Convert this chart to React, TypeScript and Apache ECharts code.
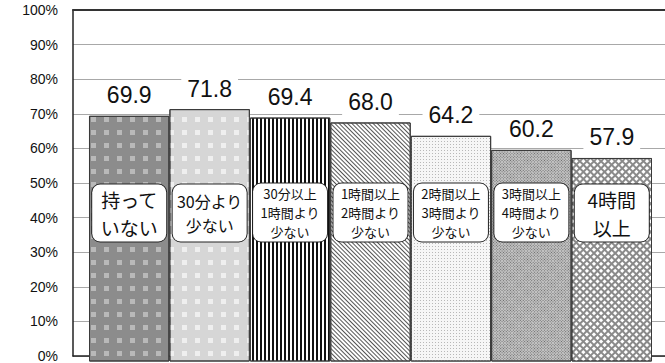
import React, { useEffect, useRef } from "react";
import * as echarts from "echarts";

const categories = [
  "持って\nいない",
  "30分より\n少ない",
  "30分以上\n1時間より\n少ない",
  "1時間以上\n2時間より\n少ない",
  "2時間以上\n3時間より\n少ない",
  "3時間以上\n4時間より\n少ない",
  "4時間\n以上",
];
const values = [69.9, 71.8, 69.4, 68.0, 64.2, 60.2, 57.9];
const yMin = 0;
const yMax = 100;
const yInterval = 10;

const barStyles: any[] = [
  {
    color: "#8c8c8c",
    decal: { symbol: "rect", symbolSize: 1, color: "rgba(230,230,230,0.5)", dashArrayX: [5, 8], dashArrayY: [5, 8] },
  },
  {
    color: "#d6d6d6",
    decal: { symbol: "rect", symbolSize: 1, color: "rgba(255,255,255,0.6)", dashArrayX: [5, 8], dashArrayY: [5, 8] },
  },
  {
    color: "#ffffff",
    decal: { symbol: "rect", symbolSize: 1, color: "#111111", dashArrayX: [1.6, 1.4], dashArrayY: [1, 0] },
  },
  {
    color: "#ffffff",
    decal: { symbol: "rect", symbolSize: 1, color: "#555555", dashArrayX: [1, 0], dashArrayY: [1, 1.3], rotation: Math.PI / 4 },
  },
  {
    color: "#f6f6f6",
    decal: { symbol: "rect", symbolSize: 1, color: "#b8b8b8", dashArrayX: [1, 2], dashArrayY: [1, 1.5] },
  },
  {
    color: "#c4c4c4",
    decal: { symbol: "rect", symbolSize: 1, color: "#6a6a6a", dashArrayX: [1, 1], dashArrayY: [1, 1], rotation: Math.PI / 4 },
  },
  {
    color: "#8a8a8a",
    decal: { symbol: "rect", symbolSize: 1, color: "#ffffff", dashArrayX: [3, 1.4], dashArrayY: [3, 1.4], rotation: Math.PI / 4 },
  },
];

function boxLabel(text: string, i: number) {
  const lines = text.split("\n").length;
  let fontSize = 19;
  let lineHeight = 28;
  if (lines === 3) {
    fontSize = 13;
    lineHeight = 19;
  } else if (i === 1) {
    fontSize = 16;
    lineHeight = 24;
  }
  const pv = Math.max(0.5, (57 - lines * lineHeight) / 2);
  return {
    show: true,
    position: "insideBottom",
    distance: 120,
    formatter: text,
    fontFamily: "'Noto Sans CJK JP', sans-serif",
    fontSize,
    lineHeight,
    color: "#111",
    backgroundColor: "#ffffff",
    borderColor: "#222",
    borderWidth: 1,
    borderRadius: 8,
    width: 72,
    align: "center",
    padding: [pv, 1, pv, 1],
  };
}

export default function App() {
  const ref = useRef<HTMLDivElement>(null);
  useEffect(() => {
    if (!ref.current) return;
    const chart = echarts.init(ref.current, null, { renderer: "svg" });
    chart.setOption({
      animation: false,
      backgroundColor: "#ffffff",
      grid: [
        { left: 73, right: -3, top: 10, bottom: 1.5 },
        { left: 89, right: 13, top: 10, bottom: 1.5 },
      ],
      xAxis: [
        {
          gridIndex: 0,
          type: "value",
          min: 0,
          max: 1,
          position: "bottom",
          axisLine: { show: true, lineStyle: { color: "#222", width: 1.5 } },
          axisTick: { show: false },
          axisLabel: { show: false },
          splitLine: { show: false },
        },
        {
          gridIndex: 0,
          type: "value",
          min: 0,
          max: 1,
          position: "top",
          axisLine: { show: true, lineStyle: { color: "#333", width: 2 } },
          axisTick: { show: false },
          axisLabel: { show: false },
          splitLine: { show: false },
        },
        {
          gridIndex: 1,
          type: "category",
          data: categories,
          axisLine: { show: false },
          axisTick: { show: false },
          axisLabel: { show: false },
          splitLine: { show: false },
        },
      ],
      yAxis: [
        {
          gridIndex: 0,
          type: "value",
          min: yMin,
          max: yMax,
          interval: yInterval,
          axisLine: { show: true, lineStyle: { color: "#222", width: 1.5 } },
          axisTick: { show: false },
          axisLabel: {
            formatter: "{value}%",
            fontFamily: "'Liberation Sans', Arial, sans-serif",
            fontSize: 14,
            color: "#111",
            margin: 15,
          },
          splitLine: { show: true, lineStyle: { color: "#a8a8a8", width: 1 } },
        },
        {
          gridIndex: 1,
          type: "value",
          min: yMin,
          max: yMax,
          interval: yInterval,
          show: false,
          splitLine: { show: false },
        },
      ],
      series: [
        {
          type: "bar",
          xAxisIndex: 2,
          yAxisIndex: 1,
          barCategoryGap: 0,
          barGap: "-100%",
          data: values.map((v, i) => ({
            value: v,
            itemStyle: { ...barStyles[i], borderColor: "#3a3a3a", borderWidth: 1 },
          })),
          label: {
            show: true,
            position: "top",
            distance: 7,
            formatter: (p: any) => Number(p.value).toFixed(1),
            fontFamily: "'Liberation Sans', Arial, sans-serif",
            fontSize: 23,
            color: "#111",
            backgroundColor: "#ffffff",
            padding: [3, 6, 2, 6],
          },
          z: 2,
        },
        {
          type: "bar",
          xAxisIndex: 2,
          yAxisIndex: 1,
          barCategoryGap: 0,
          barGap: "-100%",
          data: values.map((v, i) => ({
            value: v,
            label: boxLabel(categories[i], i),
          })),
          itemStyle: { color: "rgba(0,0,0,0)" },
          z: 3,
        },
      ],
    });
    return () => chart.dispose();
  }, []);
  return (
    <div
      ref={ref}
      style={{ position: "fixed", left: 0, top: 0, width: 665, height: 363 }}
    />
  );
}
